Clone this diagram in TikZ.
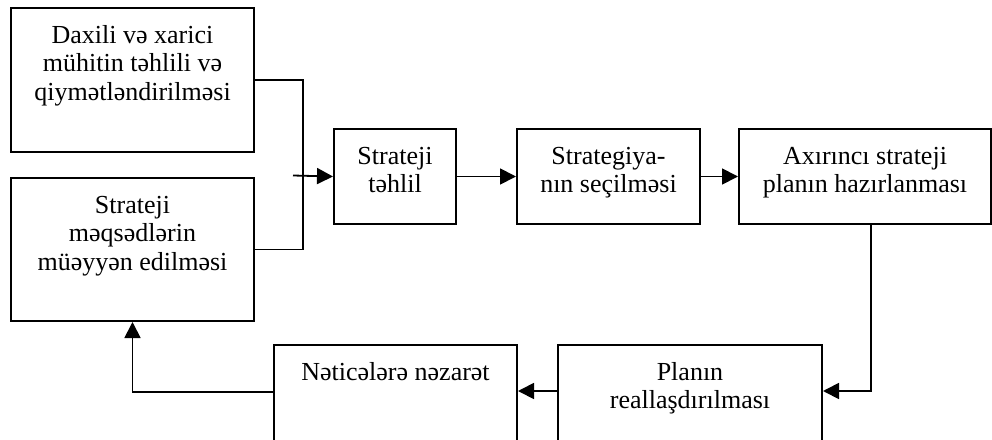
\documentclass[tikz,border=0pt]{standalone}
\usepackage{fontspec}
\setmainfont{Liberation Serif}
\usetikzlibrary{arrows.meta}
\newcommand\bxt[3]{\parbox[t][#2][t]{#1}{\centering\rule{0pt}{35pt}#3}}
\begin{document}
\begin{tikzpicture}[x=1pt,y=-1pt,
  box/.style={draw, line width=2pt, inner sep=0pt, anchor=north west,
    font=\fontsize{26}{28.5}\selectfont},
  conn/.style={line width=1.8pt},
  arr/.style={line width=1.8pt, -{Triangle[length=16pt,width=16pt]}}]
\useasboundingbox (0,0) rectangle (992,439);
\clip (0,0) rectangle (992,439);
\node[box] (b1) at (10,7) {\bxt{243pt}{144pt}{Daxili və xarici\\ mühitin təhlili və\\ qiymətləndirilməsi}};
\node[box] (b2) at (10,177) {\bxt{243pt}{143pt}{Strateji\\ məqsədlərin\\ müəyyən edilməsi}};
\node[box] (st) at (333,128) {\bxt{122pt}{95pt}{Strateji\\ təhlil}};
\node[box] (sg) at (516,128) {\bxt{183pt}{95pt}{Strategiya-\\ nın seçilməsi}};
\node[box] (ax) at (738,128) {\bxt{252pt}{95pt}{Axırıncı strateji\\ planın hazırlanması}};
\node[box] (pl) at (557,344) {\bxt{264pt}{110pt}{Planın\\ reallaşdırılması}};
\node[box] (nz) at (273,344) {\bxt{243pt}{110pt}{Nəticələrə nəzarət}};
\coordinate (jin) at (293,175.5);
\draw[conn] (b1.east) -- ++(48,0) |- (b2.east);
\draw[arr] (jin) -- (st.west);
\draw[arr] (st.east) -- (sg.west);
\draw[arr] (sg.east) -- (ax.west);
\draw[arr] ([xshift=6pt]ax.south) |- ([yshift=-47pt]pl.north east);
\draw[arr] ([yshift=-47pt]pl.north west) -- ([yshift=-47pt]nz.north east);
\draw[arr] ([yshift=-48pt]nz.north west) -| (b2.south);
\end{tikzpicture}
\end{document}
